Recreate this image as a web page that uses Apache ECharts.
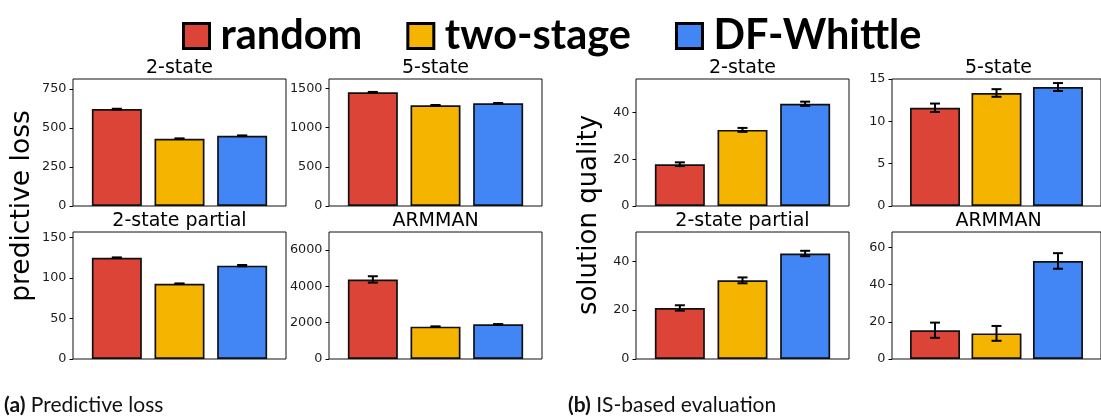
<!DOCTYPE html>
<html><head><meta charset="utf-8">
<script src="https://cdn.jsdelivr.net/npm/echarts@6/dist/echarts.min.js"></script>
<style>html,body{margin:0;padding:0;background:#fff}#c{width:1101px;height:419px}</style>
</head><body><div id="c"></div>
<script>
// ---- data ----
const methods = ['random', 'two-stage', 'DF-Whittle'];
const methodColors = ['#DB4437', '#F4B400', '#4285F4'];
const panelTitles = ['2-state', '5-state', '2-state partial', 'ARMMAN', '2-state', '5-state', '2-state partial', 'ARMMAN'];

// (a) predictive loss
const loss2State = [622, 432, 451];
const loss2StateErr = [2, 2, 2];
const loss5State = [1449, 1283, 1308];
const loss5StateErr = [4, 4, 4];
const loss2StatePartial = [125.2, 93.1, 115.4];
const loss2StatePartialErr = [0.4, 0.3, 0.8];
const lossArmman = [4386, 1783, 1910];
const lossArmmanErr = [175, 15, 15];

// (b) IS-based evaluation (solution quality)
const quality2State = [17.9, 32.6, 43.8];
const quality2StateErr = [0.8, 0.85, 0.9];
const quality5State = [11.6, 13.35, 14.05];
const quality5StateErr = [0.5, 0.45, 0.47];
const quality2StatePartial = [20.9, 32.2, 43.2];
const quality2StatePartialErr = [1.1, 1.2, 1.1];
const qualityArmman = [15.5, 13.8, 52.8];
const qualityArmmanErr = [4.1, 4.0, 4.2];

// axis ranges and tick labels
const yMax = [815, 1618, 157, 7000, 54.4, 15, 52, 68.4];
const yTicks = [
  [0, 250, 500, 750],
  [0, 500, 1000, 1500],
  [0, 50, 100, 150],
  [0, 2000, 4000, 6000],
  [0, 20, 40],
  [0, 5, 10, 15],
  [0, 20, 40],
  [0, 20, 40, 60]
];

const panelMeans = [loss2State, loss5State, loss2StatePartial, lossArmman, quality2State, quality5State, quality2StatePartial, qualityArmman];
const panelErrs = [loss2StateErr, loss5StateErr, loss2StatePartialErr, lossArmmanErr, quality2StateErr, quality5StateErr, quality2StatePartialErr, qualityArmmanErr];

// ---- layout ----
const colLeft = [73, 329, 73, 329, 636, 892, 636, 892];
const rowTop = [79, 79, 232, 232, 79, 79, 232, 232];
const gW = 213, gH = 127;

const grids = [], xAxes = [], yAxes = [], series = [], graphics = [];
for (let p = 0; p < 8; p++) {
  grids.push({ left: colLeft[p], top: rowTop[p], width: gW, height: gH, show: true,
    borderColor: '#111', borderWidth: 1, backgroundColor: 'transparent', containLabel: false });
  xAxes.push({ type: 'value', gridIndex: p, min: -0.7, max: 2.7, show: false,
    axisLine: { onZero: false } });
  yAxes.push({ type: 'value', gridIndex: p, min: 0, max: yMax[p], position: 'left',
    axisLine: { show: false, onZero: false },
    axisTick: { show: true, length: 3.5, lineStyle: { color: '#000', width: 1 }, customValues: yTicks[p] },
    axisLabel: { fontFamily: 'DejaVu Sans', fontSize: 12.8, color: '#1a1a1a', margin: 6.5,
      customValues: yTicks[p], formatter: v => String(v) },
    splitLine: { show: false } });
  for (let m = 0; m < 3; m++) {
    series.push({ type: 'bar', name: methods[m], xAxisIndex: p, yAxisIndex: p,
      barWidth: 50, barGap: '-100%',
      itemStyle: { color: methodColors[m], borderColor: '#111', borderWidth: 1.7 },
      data: [[m, panelMeans[p][m]]], animation: false, z: 2 });
  }
  const errData = panelMeans[p].map((v, i) => [i, v - panelErrs[p][i], v + panelErrs[p][i]]);
  series.push({ type: 'custom', name: 'err' + p, xAxisIndex: p, yAxisIndex: p, z: 5,
    encode: { x: 0, y: [1, 2] }, data: errData, animation: false,
    renderItem: function (params, api) {
      const x = api.value(0);
      const lo = api.coord([x, api.value(1)]);
      const hi = api.coord([x, api.value(2)]);
      const h = 5;
      const st = { stroke: '#000', lineWidth: 2 };
      return { type: 'group', children: [
        { type: 'line', shape: { x1: hi[0], y1: hi[1], x2: lo[0], y2: lo[1] }, style: st },
        { type: 'line', shape: { x1: hi[0] - h, y1: hi[1], x2: hi[0] + h, y2: hi[1] }, style: st },
        { type: 'line', shape: { x1: lo[0] - h, y1: lo[1], x2: lo[0] + h, y2: lo[1] }, style: st }
      ] };
    } });
  graphics.push({ type: 'text', x: colLeft[p] + gW / 2, y: rowTop[p] === 79 ? 68.5 : 221.5,
    style: { text: panelTitles[p], font: '19px "DejaVu Sans"', fill: '#000', align: 'center', verticalAlign: 'middle' } });
}

graphics.push({ type: 'text', x: 22, y: 206, rotation: Math.PI / 2,
  style: { text: 'predictive loss', font: '26.5px "DejaVu Sans"', fill: '#000', align: 'center', verticalAlign: 'middle' } });
graphics.push({ type: 'text', x: 589, y: 215, rotation: Math.PI / 2,
  style: { text: 'solution quality', font: '26px "DejaVu Sans"', fill: '#000', align: 'center', verticalAlign: 'middle' } });
graphics.push({ type: 'text', x: 4, y: 405,
  style: { text: '{b|(a)} Predictive loss', font: '21px Lato', fill: '#111', verticalAlign: 'middle',
    rich: { b: { fontWeight: 'bold', fontFamily: 'Lato', fontSize: 21, fill: '#111' } } } });
graphics.push({ type: 'text', x: 568, y: 405,
  style: { text: '{b|(b)} IS-based evaluation', font: '21px Lato', fill: '#111', verticalAlign: 'middle',
    rich: { b: { fontWeight: 'bold', fontFamily: 'Lato', fontSize: 21, fill: '#111' } } } });

const chart = echarts.init(document.getElementById('c'), null, { renderer: 'canvas' });
chart.setOption({
  animation: false,
  backgroundColor: '#fff',
  legend: {
    left: 177, top: 10, itemWidth: 26, itemHeight: 25, itemGap: 44, icon: 'rect',
    selectedMode: false,
    data: methods.map((n, i) => ({ name: n, itemStyle: { color: methodColors[i], borderColor: '#000', borderWidth: 3 } })),
    textStyle: { fontFamily: 'Lato', fontWeight: 'bold', fontSize: 41.5, color: '#000', padding: [0, 0, 0, 6] }
  },
  grid: grids, xAxis: xAxes, yAxis: yAxes, series: series, graphic: graphics
});
</script></body></html>
